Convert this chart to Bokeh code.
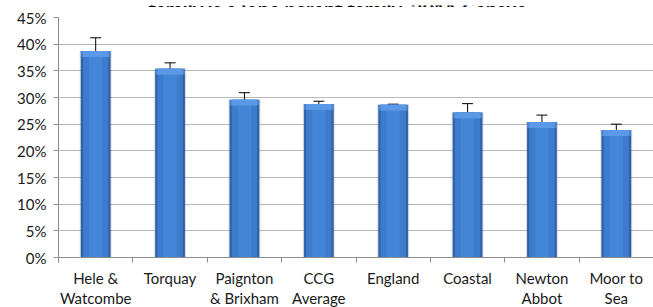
from bokeh.plotting import figure
from bokeh.layouts import column
from bokeh.models import (ColumnDataSource, FixedTicker, Whisker, TeeHead, Range1d)
from bokeh.core.properties import value
from bokeh.embed import file_html
from bokeh.resources import INLINE

# ---- data ----
categories = ["Hele &\nWatcombe", "Torquay", "Paignton\n& Brixham", "CCG\nAverage",
              "England", "Coastal", "Newton\nAbbot", "Moor to\nSea"]
values = [38.7, 35.4, 29.6, 28.8, 28.65, 27.2, 25.4, 23.9]
lower = [36.5, 34.4, 28.8, 28.35, 28.55, 25.8, 24.3, 22.85]
upper = [41.2, 36.5, 30.9, 29.3, 28.75, 28.85, 26.7, 25.0]
y_ticks = [0, 5, 10, 15, 20, 25, 30, 35, 40, 45]
title_text = "family is a lone parent family, 2011 Census"

FONT = "Lato"
LEFT = 58
FRAME_W = 595
FRAME_H = 240
TITLE_H = 7

# ---- title strip (only the lower part of the title is visible, as in the reference) ----
t = figure(frame_width=FRAME_W, frame_height=TITLE_H, output_backend="svg",
           toolbar_location=None,
           x_range=Range1d(LEFT, LEFT + FRAME_W), y_range=Range1d(0, TITLE_H),
           min_border_left=LEFT, min_border_right=0, min_border_top=0,
           min_border_bottom=0)
t.axis.visible = False
t.grid.visible = False
t.outline_line_color = None
t.text(x=[337], y=[TITLE_H - 3], text=[title_text], text_align="center",
       text_baseline="alphabetic", text_font=value(FONT), text_font_style="bold",
       text_font_size="20px", text_color="black")

# ---- main chart ----
x = [i + 0.5 for i in range(len(categories))]
bevel = [v - 1.1 for v in values]
src = ColumnDataSource(dict(x=x, top=values, lower=lower, upper=upper, bevel=bevel))

p = figure(frame_width=FRAME_W, frame_height=FRAME_H, output_backend="svg",
           toolbar_location=None,
           x_range=Range1d(0, len(categories)), y_range=Range1d(0, 45),
           min_border_left=LEFT, min_border_right=0, min_border_top=17 - TITLE_H,
           min_border_bottom=40)
p.outline_line_color = None
p.background_fill_color = "white"
p.border_fill_color = "white"

# bars: soft shadow, dark edge, lighter body, top bevel
p.vbar(x="x", top="top", bottom=0, width=0.43, source=src,
       fill_color="#8a8a8a", fill_alpha=0.3, line_color=None)
p.vbar(x="x", top="top", bottom=0, width=0.40, source=src,
       fill_color="#2f62a8", line_color=None)
p.vbar(x="x", top="top", bottom=0, width=0.34, source=src,
       fill_color="#3d7ccd", line_color=None)
p.vbar(x="x", top="top", bottom=0, width=0.18, source=src,
       fill_color="#4385d6", line_color=None)
p.vbar(x="x", top="top", bottom="bevel", width=0.34, source=src,
       fill_color="#5b9ae6", line_color=None)
p.vbar(x="x", top="top", bottom="bevel", width=0.40, source=src,
       fill_color="#5b9ae6", fill_alpha=0.6, line_color=None)

# error bars
w = Whisker(base="x", upper="upper", lower="lower", source=src,
            line_color="black", line_width=1,
            upper_head=TeeHead(size=11, line_color="black", line_width=1),
            lower_head=TeeHead(size=11, line_color="black", line_width=1))
p.add_layout(w)

# grid
p.xgrid.visible = False
p.ygrid.ticker = FixedTicker(ticks=y_ticks)
p.ygrid.grid_line_color = "#b8b8b8"
p.ygrid.grid_line_width = 1

# y axis
p.yaxis.ticker = FixedTicker(ticks=y_ticks)
p.yaxis.major_label_overrides = {tk: f"{tk}%" for tk in y_ticks}
p.yaxis.axis_line_color = "#8c8c8c"
p.yaxis.major_tick_line_color = "#8c8c8c"
p.yaxis.major_tick_out = 5
p.yaxis.major_tick_in = 0
p.yaxis.minor_tick_line_color = None
p.yaxis.major_label_text_font = FONT
p.yaxis.major_label_text_font_size = "15px"
p.yaxis.major_label_text_color = "#1a1a1a"
p.yaxis.major_label_standoff = 7

# x axis: labels at centers, ticks at category boundaries
p.xaxis.ticker = FixedTicker(ticks=x, minor_ticks=list(range(len(categories) + 1)))
p.xaxis.major_label_overrides = {xx: c for xx, c in zip(x, categories)}
p.xaxis.axis_line_color = "#8c8c8c"
p.xaxis.major_tick_line_color = None
p.xaxis.minor_tick_line_color = "#8c8c8c"
p.xaxis.minor_tick_out = 5
p.xaxis.minor_tick_in = 0
p.xaxis.major_label_text_font = FONT
p.xaxis.major_label_text_font_size = "15px"
p.xaxis.major_label_text_color = "#1a1a1a"
p.xaxis.major_label_text_line_height = 1.15
p.xaxis.major_label_standoff = 5

layout = column(t, p, spacing=0)
html = file_html(layout, INLINE)
html = html.replace("<body>", '<body style="margin:0;overflow:hidden">', 1)
open("out.html", "w").write(html)
